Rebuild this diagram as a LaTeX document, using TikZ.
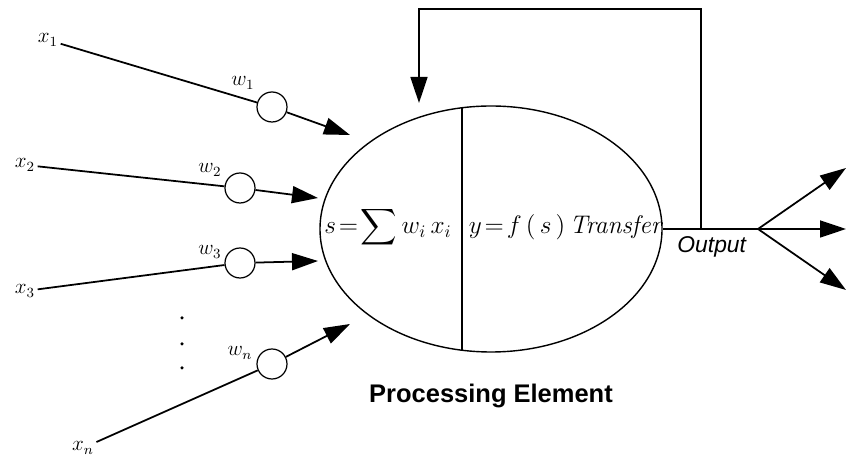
\documentclass[tikz,border=0pt]{standalone}
\usepackage{amsmath}
\usepackage{fontspec}
\newfontfamily\arialfont{Liberation Sans}
\usepackage{tikz}
\usetikzlibrary{arrows.meta,positioning,calc,shapes.geometric}

\begin{document}
\begin{tikzpicture}[>={Triangle[length=0.52cm, width=0.34cm]}, line width=1pt,
    every node/.style={font=\large},
    wcirc/.style={draw, circle, minimum size=0.6cm, inner sep=0pt, line width=0.7pt},
    inlbl/.style={inner sep=1pt}]
    \useasboundingbox (0,0) rectangle (16.92,9.1);
    % processing element
    \node[draw, ellipse, minimum width=6.84cm, minimum height=4.92cm, inner sep=0pt,
      line width=0.8pt] (pe) at (9.82,4.52) {};
    \draw ($(pe.center)+(-0.58,2.42)$) -- ($(pe.center)+(-0.58,-2.42)$);
    \node (sum) at (7.76,4.56) {\fontsize{14}{16}\selectfont $s\!=\!\displaystyle\sum\nolimits w_i\,x_i$};
    \node (tf) at (11.32,4.56) {\fontsize{14.5}{16}\selectfont $y\!=\!f\,(\,s\,)$\,\textit{Transfer}};
    \node[below=0.5cm of pe] (pelbl) {\arialfont\bfseries\fontsize{14.5}{17}\selectfont Processing Element};
    % inputs and weights
    \node[inlbl] (x1) at (0.96,8.3) {$x_1$};
    \node[inlbl] (x2) at (0.5,5.8) {$x_2$};
    \node[inlbl] (x3) at (0.5,3.28) {$x_3$};
    \node[inlbl] (xn) at (1.66,0.14) {$x_n$};
    \node[wcirc] (w1) at (5.44,6.96) {};
    \node[wcirc] (w2) at (4.8,5.34) {};
    \node[wcirc] (w3) at (4.8,3.84) {};
    \node[wcirc] (wn) at (5.44,1.82) {};
    \node (w1lbl) at (4.86,7.44) {$w_1$};
    \node (w2lbl) at (4.2,5.7) {$w_2$};
    \node (w3lbl) at (4.2,4.06) {$w_3$};
    \node (wnlbl) at (4.8,2.04) {$w_n$};
    \coordinate (t1) at (7.0,6.4);
    \coordinate (t2) at (6.36,5.14);
    \coordinate (t3) at (6.36,3.88);
    \coordinate (tn) at (7.0,2.62);
    \foreach \i in {1,2,3,n}{
      \draw (x\i) -- (w\i);
      \draw[->] (w\i) -- (t\i);
    }
    % dots
    \foreach \y in {2.74,2.22,1.74}
      \fill (3.64,\y) circle (0.035);
    % output and feedback
    \coordinate (br) at (15.16,4.52);
    \coordinate (tap) at (14.02,4.52);
    \coordinate (fbend) at (8.38,7.04);
    \draw (pe.east) -- (br);
    \node[below right=0.02cm and 0.16cm of pe.east] (outlbl) {\arialfont\itshape\fontsize{13}{15}\selectfont Output};
    \draw[->] (tap) -- ++(0,4.4) -| (fbend);
    \coordinate (o1) at (16.92,5.74);
    \coordinate (o2) at (16.92,4.52);
    \coordinate (o3) at (16.92,3.3);
    \foreach \o in {o1,o2,o3}
      \draw[->] (br) -- (\o);
\end{tikzpicture}
\end{document}
